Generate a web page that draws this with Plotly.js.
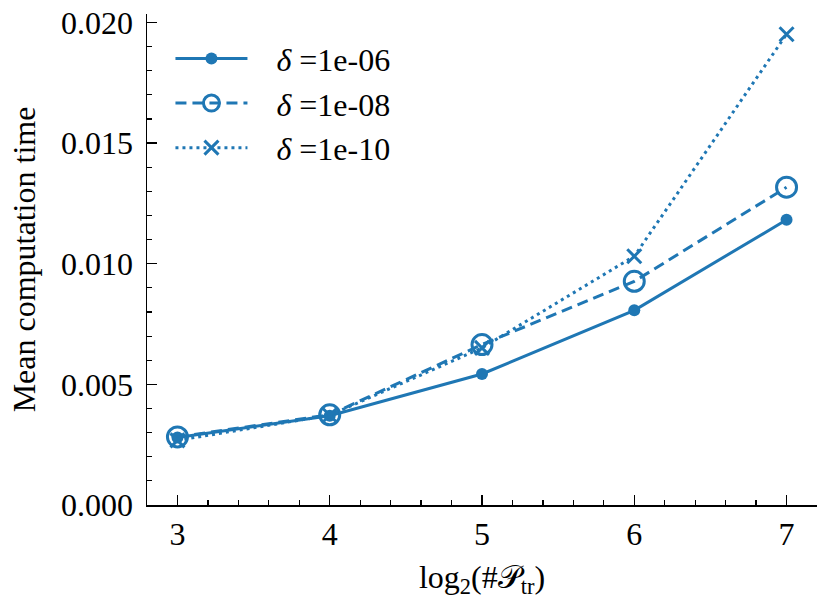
<!DOCTYPE html>
<html>
<head>
<meta charset="utf-8">
<script src="https://cdn.plot.ly/plotly-3.0.1.min.js"></script>
<style>
  html, body { margin: 0; padding: 0; background: #fff; }
  #chart { width: 829px; height: 608px; }
</style>
</head>
<body>
<div id="chart"></div>
<script>
    // Mean computation time vs log2(#P_tr), one series per delta tolerance.
    var LOG2_PTR = [3, 4, 5, 6, 7];
    var DELTA_LABELS = ['1e-06', '1e-08', '1e-10'];
    var TIME_D6 = [0.00280, 0.00370, 0.00543, 0.00807, 0.01182];
    var TIME_D8 = [0.00282, 0.00374, 0.00665, 0.00927, 0.01317];
    var TIME_D10 = [0.00268, 0.00372, 0.00651, 0.01031, 0.01951];

    var BLUE = '#1f77b4';
    var SERIF = '"Liberation Serif", "DejaVu Serif", serif';
    var FONT = { family: SERIF, size: 32, color: '#000' };

    function series(y, name, dash, marker) {
        return {
            type: 'scatter', mode: 'lines+markers',
            x: LOG2_PTR, y: y,
            name: '&nbsp;&nbsp;&nbsp;<i>δ</i> =' + name,
            line: { color: BLUE, width: 3, dash: dash },
            marker: marker,
        };
    }

    var traces = [
        series(TIME_D6, DELTA_LABELS[0], 'solid',
            { symbol: 'circle', size: 12, color: BLUE }),
        series(TIME_D8, DELTA_LABELS[1], '11px,6px',
            { symbol: 'circle-open', size: 20, color: BLUE, line: { color: BLUE, width: 3 } }),
        series(TIME_D10, DELTA_LABELS[2], '3px,4px',
            { symbol: 'x-thin-open', size: 14, color: BLUE, line: { color: BLUE, width: 3 } }),
    ];

    function axis(extra) {
        var base = {
            showgrid: false, zeroline: false,
            showline: true, linecolor: '#000', linewidth: 1.5,
            ticks: 'inside', ticklen: 10, tickwidth: 1.5, tickcolor: '#000',
            tickfont: FONT, mirror: false,
        };
        return Object.assign(base, extra);
    }

    var layout = {
        width: 829, height: 608,
        paper_bgcolor: '#fff', plot_bgcolor: '#fff',
        font: FONT,
        margin: { l: 147, r: 12, t: 14, b: 103 },
        showlegend: true,
        legend: {
            x: 0.035, y: 0.965, xanchor: 'left', yanchor: 'top',
            bgcolor: 'rgba(0,0,0,0)', font: FONT, itemwidth: 72,
        },
        xaxis: axis({
            range: [2.8, 7.2], tick0: 3, dtick: 1, ticklabelstandoff: 0,
            minor: { ticks: 'inside', dtick: 0.2, tick0: 3, ticklen: 5, tickwidth: 1.2, tickcolor: '#000' },
            title: { text: 'log<sub>2</sub>(#𝒫<sub>tr</sub>)', font: FONT, standoff: 14 },
        }),
        yaxis: axis({
            range: [0, 0.02035], tick0: 0, dtick: 0.005, tickformat: '.3f', ticklabelstandoff: 6,
            minor: { ticks: 'inside', dtick: 0.001, tick0: 0, ticklen: 5, tickwidth: 1.2, tickcolor: '#000' },
            title: { text: 'Mean computation time', font: FONT, standoff: 16 },
        }),
    };

    Plotly.newPlot('chart', traces, layout, { displayModeBar: false, staticPlot: true });
</script>
</body>
</html>
